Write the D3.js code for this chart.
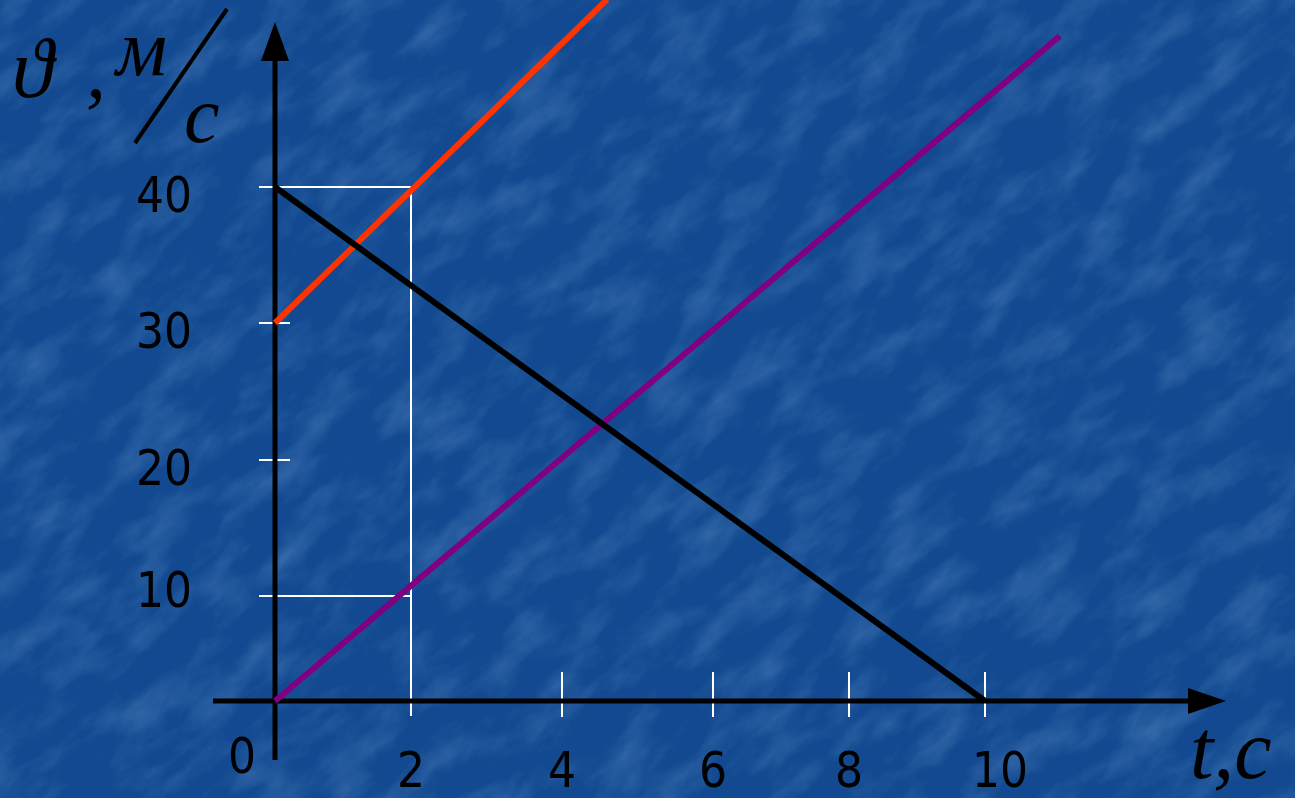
<!DOCTYPE html>
<html>
<head>
    <meta charset="utf-8">
    <script src="https://d3js.org/d3.v7.min.js"></script>
    <style>
        body { margin: 0; background: #134a8e; overflow: hidden; }
        .tick-label {
            font-family: "DejaVu Sans Condensed", "DejaVu Sans", sans-serif;
            font-size: 49px;
            fill: #000;
        }
        .unit {
            font-family: "Liberation Serif", "DejaVu Serif", serif;
            font-style: italic;
            fill: #000;
        }
    </style>
</head>
<body>
<script>
    // tick values
    var xTicks = [2, 4, 6, 8, 10];
    var yTicks = [10, 20, 30, 40];

    // where each tick sits on the slide (the drawing is not evenly spaced)
    var xDomain = [0, 2, 4, 6, 8, 10];
    var yDomain = [0, 10, 20, 30, 40];

    // speed lines, [t, v]
    var redLine = [[0, 30], [4.6, 53.8]];
    var purpleLine = [[0, 0], [11.1, 51.1]];
    var blackLine = [[0, 40], [10, 0]];

    var width = 1295, height = 798;

    var x = d3.scaleLinear().domain(xDomain).range([275, 411, 562, 713, 849, 985]);
    var y = d3.scaleLinear().domain(yDomain).range([701, 596, 460, 323, 187]);

    var svg = d3.select("body").append("svg")
        .attr("width", width)
        .attr("height", height);

    // textured blue background
    var defs = svg.append("defs");
    var f = defs.append("filter").attr("id", "tex")
        .attr("x", 0).attr("y", 0).attr("width", "100%").attr("height", "100%");
    f.append("feTurbulence")
        .attr("type", "fractalNoise")
        .attr("baseFrequency", "0.014 0.03")
        .attr("numOctaves", 5)
        .attr("seed", 11)
        .attr("result", "n");
    f.append("feColorMatrix")
        .attr("type", "matrix")
        .attr("values", "0 0 0 0 0.25  0 0 0 0 0.48  0 0 0 0 0.78  2.0 0 0 0 -0.85");

    svg.append("rect")
        .attr("width", width).attr("height", height)
        .attr("fill", "#124990");

    svg.append("g")
        .attr("transform", "translate(647,399) rotate(-40)")
        .append("rect")
        .attr("x", -1000).attr("y", -1000)
        .attr("width", 2000).attr("height", 2000)
        .attr("filter", "url(#tex)")
        .attr("opacity", 0.28);

    var line = d3.line()
        .x(function(d) { return x(d[0]); })
        .y(function(d) { return y(d[1]); });

    // white helper lines
    var white = svg.append("g").attr("stroke", "#fff").attr("stroke-width", 2).attr("fill", "none");
    yTicks.forEach(function(v) {
        var x2 = (v == 40 || v == 10) ? x(2) : 290;
        white.append("line")
            .attr("x1", 259).attr("x2", x2)
            .attr("y1", y(v)).attr("y2", y(v));
    });
    white.append("line")
        .attr("x1", x(2)).attr("x2", x(2))
        .attr("y1", y(40)).attr("y2", y(0) + 15);
    xTicks.filter(function(t) { return t != 2; }).forEach(function(t) {
        white.append("line")
            .attr("x1", x(t)).attr("x2", x(t))
            .attr("y1", y(0) - 29).attr("y2", y(0) + 16);
    });

    // axes
    svg.append("line")
        .attr("x1", x(0)).attr("x2", x(0))
        .attr("y1", 760).attr("y2", 50)
        .attr("stroke", "#000").attr("stroke-width", 5);
    svg.append("path")
        .attr("d", "M" + x(0) + ",22 L" + (x(0) - 14) + ",61 L" + (x(0) + 14) + ",61 Z")
        .attr("fill", "#000");
    svg.append("line")
        .attr("x1", 213).attr("x2", 1195)
        .attr("y1", y(0)).attr("y2", y(0))
        .attr("stroke", "#000").attr("stroke-width", 5);
    svg.append("path")
        .attr("d", "M1226," + y(0) + " L1188," + (y(0) - 13) + " L1188," + (y(0) + 13) + " Z")
        .attr("fill", "#000");

    // data lines
    svg.append("path").datum(purpleLine)
        .attr("d", line).attr("fill", "none")
        .attr("stroke", "#800080").attr("stroke-width", 6);
    svg.append("path").datum(redLine)
        .attr("d", line).attr("fill", "none")
        .attr("stroke", "#ff3300").attr("stroke-width", 6);
    svg.append("path").datum(blackLine)
        .attr("d", line).attr("fill", "none")
        .attr("stroke", "#000").attr("stroke-width", 6);

    // tick labels
    svg.selectAll(".ylab")
        .data(yTicks)
        .enter().append("text")
        .attr("class", "tick-label")
        .attr("x", 192)
        .attr("y", function(d) { return y(d) + (d == 10 ? 11 : 25); })
        .attr("text-anchor", "end")
        .text(function(d) { return d; });

    svg.selectAll(".xlab")
        .data(xTicks)
        .enter().append("text")
        .attr("class", "tick-label")
        .attr("x", function(d) { return x(d) + (d == 10 ? 15 : 0); })
        .attr("y", 787)
        .attr("text-anchor", "middle")
        .text(function(d) { return d; });

    svg.append("text")
        .attr("class", "tick-label")
        .attr("x", 242).attr("y", 773)
        .attr("text-anchor", "middle")
        .text("0");

    // axis titles
    svg.append("text").attr("class", "unit")
        .attr("x", 12).attr("y", 97)
        .style("font-size", "84px")
        .text("ϑ");
    svg.append("text").attr("class", "unit")
        .attr("x", 86).attr("y", 97)
        .style("font-size", "80px")
        .text(",");
    svg.append("text").attr("class", "unit")
        .attr("x", 116).attr("y", 75)
        .style("font-size", "80px")
        .text("м");
    svg.append("line")
        .attr("x1", 227).attr("y1", 9)
        .attr("x2", 135).attr("y2", 143)
        .attr("stroke", "#000").attr("stroke-width", 4);
    svg.append("text").attr("class", "unit")
        .attr("x", 184).attr("y", 142)
        .style("font-size", "80px")
        .text("с");

    svg.append("text").attr("class", "unit")
        .attr("x", 1190).attr("y", 778)
        .style("font-size", "84px")
        .text("t,c");
</script>
</body>
</html>
